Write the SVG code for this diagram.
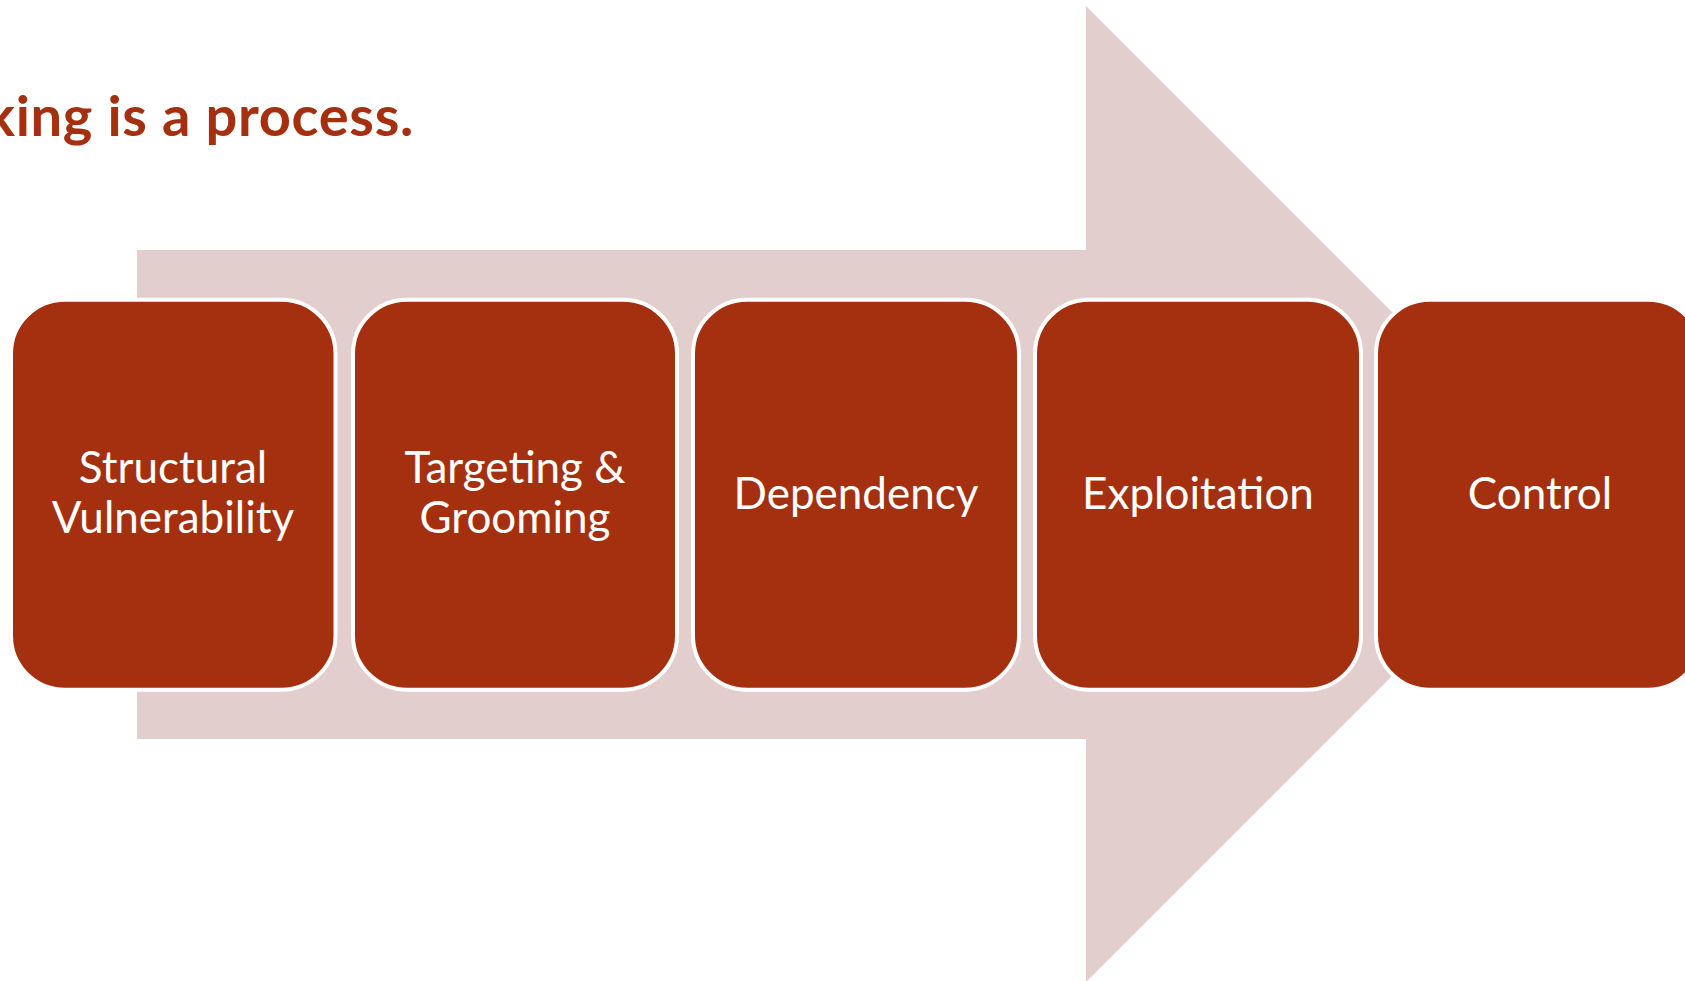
<svg xmlns="http://www.w3.org/2000/svg" width="1685" height="981" viewBox="0 0 1685 981">
<style>
.box{fill:#A5300F;stroke:#FFFFFF;stroke-width:4}
.lbl{font-family:Lato,"Open Sans","Liberation Sans",sans-serif;font-size:44px;fill:#FFFFFF;text-anchor:middle}
.title{font-family:Lato,"Open Sans","Liberation Sans",sans-serif;font-size:56px;font-weight:bold;fill:#A5300F;text-anchor:end;letter-spacing:0.7px}
</style>
<rect width="1685" height="981" fill="#FFFFFF"/>
<text class="title" x="414" y="136">king is a process.</text>
<g id="connectors">
<polygon points="137,250 1086,250 1086,6 1574,494 1086,982 1086,739 137,739" fill="#E1CECD"/>
</g>
<g id="n1"><rect class="box" x="11" y="299.7" width="324.5" height="390" rx="54"/>
<text class="lbl" x="173" y="483">Structural</text><text class="lbl" x="173" y="533">Vulnerability</text></g>
<g id="n2"><rect class="box" x="353" y="299.7" width="324" height="390" rx="54"/>
<text class="lbl" x="515" y="483">Targeting &amp;</text><text class="lbl" x="515" y="533">Grooming</text></g>
<g id="n3"><rect class="box" x="693" y="299.7" width="326" height="390" rx="54"/>
<text class="lbl" x="856" y="509">Dependency</text></g>
<g id="n4"><rect class="box" x="1035" y="299.7" width="326" height="390" rx="54"/>
<text class="lbl" x="1198" y="509">Exploitation</text></g>
<g id="n5"><rect class="box" x="1376" y="299.7" width="326" height="390" rx="54"/>
<text class="lbl" x="1540" y="509">Control</text></g>
</svg>
